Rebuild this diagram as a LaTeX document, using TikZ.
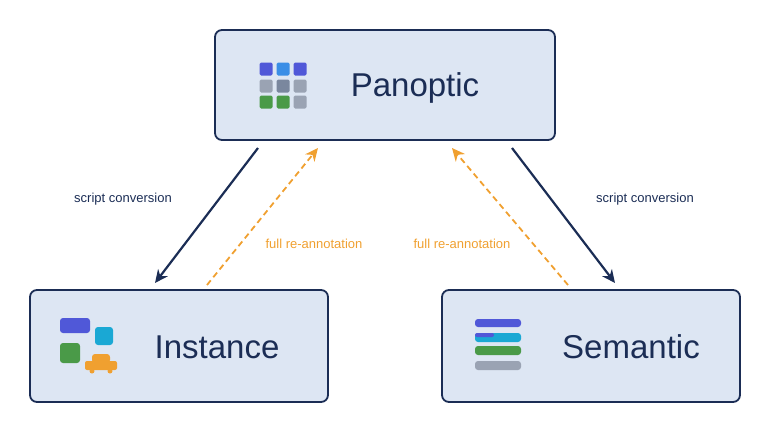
\documentclass[tikz,border=0pt]{standalone}
\usepackage{fontspec}
\setmainfont{Liberation Sans}
\usetikzlibrary{arrows.meta}
\definecolor{boxfill}{HTML}{DDE6F3}
\definecolor{navy}{HTML}{1B2D55}
\definecolor{orng}{HTML}{F0A030}
\definecolor{ib}{HTML}{5058D8}
\definecolor{ic}{HTML}{1AA8D4}
\definecolor{ig}{HTML}{4A9A48}
\definecolor{igr}{HTML}{9AA3B3}
\definecolor{igd}{HTML}{7A879E}
\definecolor{iblue}{HTML}{3A8EE6}
\begin{document}
\begin{tikzpicture}[x=1pt,y=-1pt,
  box/.style={draw=navy,line width=1.8pt,fill=boxfill,rounded corners=7pt},
  title/.style={text=navy,font=\fontsize{33}{33}\selectfont},
  solidarr/.style={draw=navy,line width=2.2pt,-{Stealth[length=13pt,width=12pt]}},
  dasharr/.style={draw=orng,line width=1.8pt,dash pattern=on 6pt off 4pt,-{Stealth[length=13pt,width=12pt]}},
  lbl/.style={font=\fontsize{13}{13}\selectfont},
  sq/.style={rounded corners=1.5pt}]
\useasboundingbox (0,0) rectangle (770,434);
\node[box,minimum width=340pt,minimum height=110pt] (pan) at (385,85) {};
\node[box,minimum width=298pt,minimum height=112pt] (ins) at (179,346) {};
\node[box,minimum width=298pt,minimum height=112pt] (sem) at (591,346) {};
\node[title] (tpan) at (415,88) {Panoptic};
\node[title] (tins) at (217,347) {Instance};
\node[title] (tsem) at (631,347) {Semantic};
% panoptic grid
\foreach \x/\y/\c in {266/69/ib,283/69/iblue,300/69/ib,266/86/igr,283/86/igd,300/86/igr,266/102/ig,283/102/ig,300/102/igr}
  \fill[\c,sq] (\x-6.5,\y-6.5) rectangle (\x+6.5,\y+6.5);
% instance icon
\fill[ib,rounded corners=3pt] (60,318) rectangle (90,333);
\fill[ic,rounded corners=3pt] (95,327) rectangle (113,345);
\fill[ig,rounded corners=3pt] (60,343) rectangle (80,363);
\fill[orng,rounded corners=2pt] (85,361) rectangle (117,370);
\fill[orng,rounded corners=3pt] (92,354) rectangle (110,363);
\fill[orng] (92,371) circle (2.5) (110,371) circle (2.5);
% semantic icon
\fill[ib,rounded corners=3pt] (475,319) rectangle (521,327);
\fill[ic,rounded corners=3pt] (475,333) rectangle (521,342);
\fill[ib,rounded corners=2pt] (475,333) rectangle (494,337);
\fill[ig,rounded corners=3pt] (475,346) rectangle (521,355);
\fill[igr,rounded corners=3pt] (475,361) rectangle (521,370);
% connectors
\coordinate (a1) at (258,148); \coordinate (a2) at (155,283);
\coordinate (b1) at (512,148); \coordinate (b2) at (615,283);
\coordinate (c1) at (207,285); \coordinate (c2) at (318,148);
\coordinate (d1) at (568,285); \coordinate (d2) at (452,148);
\draw[solidarr] (a1) -- (a2);
\draw[solidarr] (b1) -- (b2);
\draw[dasharr] (c1) -- (c2);
\draw[dasharr] (d1) -- (d2);
\node[lbl,text=navy] (l1) at (123,199) {script conversion};
\node[lbl,text=navy] (l2) at (645,199) {script conversion};
\node[lbl,text=orng] (l3) at (314,244) {full re-annotation};
\node[lbl,text=orng] (l4) at (462,244) {full re-annotation};
\end{tikzpicture}
\end{document}
